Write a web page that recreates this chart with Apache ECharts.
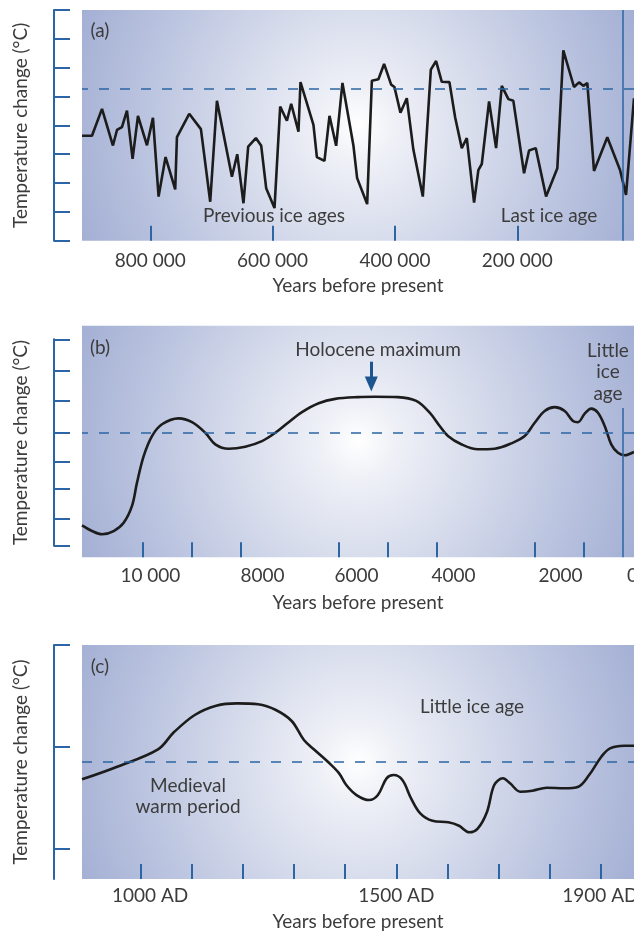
<!DOCTYPE html>
<html><head><meta charset="utf-8">
<script src="https://cdn.jsdelivr.net/npm/echarts@6/dist/echarts.min.js"></script>
<style>html,body{margin:0;padding:0;background:#fff}#c{width:634px;height:935px}</style>
</head><body><div id="c"></div>
<script>
// ---------- Panel (a): last ~900 000 years ----------
const aYears = [911600,895300,878900,861000,854400,846300,838100,828900,820100,805400,795600,786400,775000,759200,756400,736300,717200,702000,691000,666500,657800,647600,639900,627300,618600,610500,596900,587600,576600,569600,557700,554400,533200,527600,515200,507000,496100,485800,467800,461800,445400,437700,427000,417700,406200,400800,391000,380600,369800,354400,341300,332700,323400,310900,301600,290700,282500,270600,263600,258000,246100,234600,225300,214500,206400,188900,180700,169800,152900,134500,124700,107200,99000,92000,85500,74500,52800,32000,22200,9150];
const aTemp  = [3.64,3.64,4.57,3.30,3.84,3.94,4.51,2.84,4.33,3.31,4.26,1.53,2.90,1.78,3.59,4.40,3.87,1.35,4.85,2.22,3.00,1.30,3.26,3.56,3.29,1.82,1.13,4.65,4.16,4.75,3.78,5.50,4.02,2.90,2.77,4.33,3.29,5.47,3.29,2.17,1.27,5.55,5.60,6.13,5.41,5.33,4.44,4.94,3.15,1.53,5.93,6.23,5.51,5.50,4.28,3.21,3.56,1.32,2.45,2.66,4.83,3.21,5.37,4.91,4.85,2.34,3.13,3.21,1.53,2.51,6.60,5.33,5.49,5.37,5.47,2.42,3.59,2.45,1.59,4.94];
const aTickValues = [800000,600000,400000,200000];
const aTickLabels = ['800 000','600 000','400 000','200 000'];
const aReference = 5.26;
const aMarkerYear = 27100;

// ---------- Panel (b): last ~11 000 years ----------
const bYears = [11232,11028,10824,10586,10382,10212,10110,9974,9804,9600,9260,8988,8717,8513,8240,7901,7560,7289,7016,6744,6404,6065,5602,5261,4786,4413,4139,3935,3766,3495,3154,2813,2475,2201,1997,1793,1589,1385,1216,1114,977,843,706,569,435,298,161,-29];
const bTemp  = [0.69,0.50,0.39,0.50,0.78,1.35,2.14,3.04,3.72,4.12,4.32,4.19,3.83,3.44,3.29,3.36,3.55,3.83,4.19,4.53,4.83,4.98,5.04,5.05,5.04,4.91,4.51,4.06,3.72,3.44,3.27,3.29,3.47,3.72,4.17,4.57,4.70,4.57,4.23,4.19,4.48,4.65,4.51,4.06,3.44,3.15,3.07,3.18];
const bMinorTicks = [10000,9000,8000,6000,5000,4000,2000,1000];
const bTickValues = [10000,8000,6000,4000,2000,0];
const bTickLabels = ['10 000','8000','6000','4000','2000','0'];
const bYTicks = [0,0.93,1.92,2.85,3.83,4.92,5.93,7];
const bReference = 3.83;
const bLittleIceAge = 200;
const bHoloceneMax = 5330;

// ---------- Panel (c): 900-1965 AD ----------
const cYears = [884,953,1033,1064,1105,1147,1188,1229,1264,1295,1319,1340,1367,1388,1402,1422,1447,1464,1481,1495,1512,1529,1547,1571,1602,1623,1643,1660,1678,1692,1709,1723,1743,1767,1795,1829,1857,1878,1902,1919,1947,1966];
const cTemp  = [0.683,0.807,0.977,1.144,1.314,1.405,1.428,1.419,1.363,1.255,1.069,0.971,0.850,0.742,0.627,0.529,0.480,0.529,0.693,0.725,0.676,0.497,0.350,0.277,0.262,0.228,0.164,0.203,0.366,0.627,0.693,0.644,0.562,0.572,0.601,0.595,0.611,0.725,0.905,0.987,1.013,1.013];
const cMinorTicks = [1000,1100,1200,1300,1400,1500,1600,1700,1800,1900];
const cTickValues = [1000,1500,1900];
const cTickLabels = ['1000 AD','1500 AD','1900 AD'];
const cYTicks = [0,1,2];
const cReference = 0.856;

const yTitle = 'Temperature change (°C)';
const xTitle = 'Years before present';

// ---------- styles ----------
const FONT = 'Lato, "Open Sans", sans-serif';
const TXT = '#3c3c3c';
const BLUE = '#2b65a3';
const FS = 19;
// horizontal nudges (px) of tick labels, as hand-placed in the original artwork
const labelNudge = {a: [0, 0, 0, 0], b: [8, 22, 18, 17, 26, 0], c: [9, 0, 0]};

function bg() {
  return new echarts.graphic.RadialGradient(0.5, 0.5, 1.3, [
    {offset: 0, color: '#ffffff'},
    {offset: 0.12, color: '#eff1f7'},
    {offset: 0.4, color: '#d7dcec'},
    {offset: 0.7, color: '#bcc5e0'},
    {offset: 1, color: '#a3afd4'}
  ]);
}
function richFor(nudges) {
  const r = {};
  nudges.forEach((n, i) => {
    r['p' + i] = {color: TXT, fontFamily: FONT, fontSize: FS, padding: [0, 0, 0, 2 * n]};
  });
  return r;
}
function lookup(vals, labels) {
  return v => { const i = vals.indexOf(v); return i >= 0 ? '{p' + i + '|' + labels[i] + '}' : ''; };
}
function xAxisCfg(grid, min, max, inverse, ticks, labelVals, labels, nudges, margin, gap) {
  return {
    gridIndex: grid, type: 'value', min: min, max: max, inverse: inverse,
    axisLine: {show: false, onZero: false},
    axisTick: {show: true, inside: true, length: 15, customValues: ticks, lineStyle: {color: BLUE, width: 2}},
    axisLabel: {show: true, customValues: labelVals, formatter: lookup(labelVals, labels), margin: margin,
      color: TXT, fontFamily: FONT, fontSize: FS, rich: richFor(nudges)},
    splitLine: {show: false},
    name: xTitle, nameLocation: 'middle', nameGap: gap,
    nameTextStyle: {color: TXT, fontFamily: FONT, fontSize: FS}
  };
}
function yAxisCfg(grid, min, max, ticks) {
  return {
    gridIndex: grid, type: 'value', min: min, max: max, offset: 28,
    axisLine: {show: true, onZero: false, lineStyle: {color: BLUE, width: 2}},
    axisTick: {show: true, inside: true, length: 16, customValues: ticks, lineStyle: {color: BLUE, width: 2}},
    axisLabel: {show: false}, splitLine: {show: false},
    name: yTitle, nameLocation: 'middle', nameGap: 24,
    nameTextStyle: {color: TXT, fontFamily: FONT, fontSize: FS}
  };
}
const dashStyle = {color: BLUE, width: 1.5, type: [10, 11]};
const solidBlue = {color: BLUE, width: 1.5, type: 'solid'};
const lineStyle = {color: '#1c1c1c', width: 2.6};

function txt(text, x, y, extra) {
  return {type: 'text', x: x, y: y, silent: true,
    style: Object.assign({text: text, fill: TXT, font: FS + 'px ' + FONT,
      textAlign: 'center', align: 'center', textVerticalAlign: 'middle', verticalAlign: 'middle'}, extra || {})};
}
const gridBase = {left: 82, right: 0, borderWidth: 0, containLabel: false, outerBoundsMode: 'none'};

const chart = echarts.init(document.getElementById('c'), null, {renderer: 'canvas'});
chart.setOption({
  animation: false,
  backgroundColor: '#ffffff',
  grid: [
    Object.assign({}, gridBase, {top: 10, height: 230.7, show: true, backgroundColor: bg()}),
    Object.assign({}, gridBase, {top: 325.7, height: 231.6, show: true, backgroundColor: bg()}),
    Object.assign({}, gridBase, {top: 339.3, height: 206.4, show: false}),
    Object.assign({}, gridBase, {top: 645, height: 234, show: true, backgroundColor: bg()})
  ],
  xAxis: [
    xAxisCfg(0, 9150, 911600, true, aTickValues, aTickValues, aTickLabels, labelNudge.a, 11, 36),
    xAxisCfg(1, -29, 11232, true, bMinorTicks, bTickValues, bTickLabels, labelNudge.b, 9, 36),
    {gridIndex: 2, type: 'value', show: false, min: 0, max: 1},
    xAxisCfg(3, 884, 1966, false, cMinorTicks, cTickValues, cTickLabels, labelNudge.c, 7, 33)
  ],
  yAxis: [
    Object.assign(yAxisCfg(0, 0, 8, null), {interval: 1, axisTick: {show: true, inside: true, length: 16, lineStyle: {color: BLUE, width: 2}}}),
    {gridIndex: 1, type: 'value', show: false, min: -0.39, max: 7.46},
    yAxisCfg(2, 0, 7, bYTicks),
    yAxisCfg(3, -0.294, 2, cYTicks)
  ],
  series: [
    {type: 'line', xAxisIndex: 0, yAxisIndex: 0, showSymbol: false, lineStyle: lineStyle,
      data: aYears.map((v, i) => [v, aTemp[i]]),
      markLine: {silent: true, symbol: ['none', 'none'], label: {show: false},
        data: [{yAxis: aReference, lineStyle: dashStyle}, {xAxis: aMarkerYear, lineStyle: solidBlue}]}},
    {type: 'line', xAxisIndex: 1, yAxisIndex: 1, showSymbol: false, smooth: 0.35, lineStyle: lineStyle,
      data: bYears.map((v, i) => [v, bTemp[i]]),
      markLine: {silent: true, symbol: ['none', 'none'], label: {show: false},
        data: [
          {yAxis: bReference, lineStyle: dashStyle},
          [{coord: [bLittleIceAge, 4.67], lineStyle: solidBlue}, {coord: [bLittleIceAge, -0.39]}],
          [{coord: [bHoloceneMax, 6.24], symbol: 'none', lineStyle: {color: '#1d5590', width: 3, type: 'solid'}},
           {coord: [bHoloceneMax, 5.48], symbol: 'triangle', symbolSize: [13, 15]}]
        ]}},
    {type: 'line', xAxisIndex: 3, yAxisIndex: 3, showSymbol: false, smooth: 0.35, lineStyle: lineStyle,
      data: cYears.map((v, i) => [v, cTemp[i]]),
      markLine: {silent: true, symbol: ['none', 'none'], label: {show: false},
        data: [{yAxis: cReference, lineStyle: dashStyle}]}}
  ],
  graphic: [
    txt('(a)', 100, 31),
    txt('Previous ice ages', 274, 216),
    txt('Last ice age', 549, 216),
    txt('(b)', 100, 348),
    txt('Holocene maximum', 378, 350),
    txt('Little\nice\nage', 608, 372, {lineHeight: 21.5}),
    txt('(c)', 100, 667),
    txt('Little ice age', 472, 707),
    txt('Medieval\nwarm period', 188, 796, {lineHeight: 21})
  ]
});
</script>
</body></html>
